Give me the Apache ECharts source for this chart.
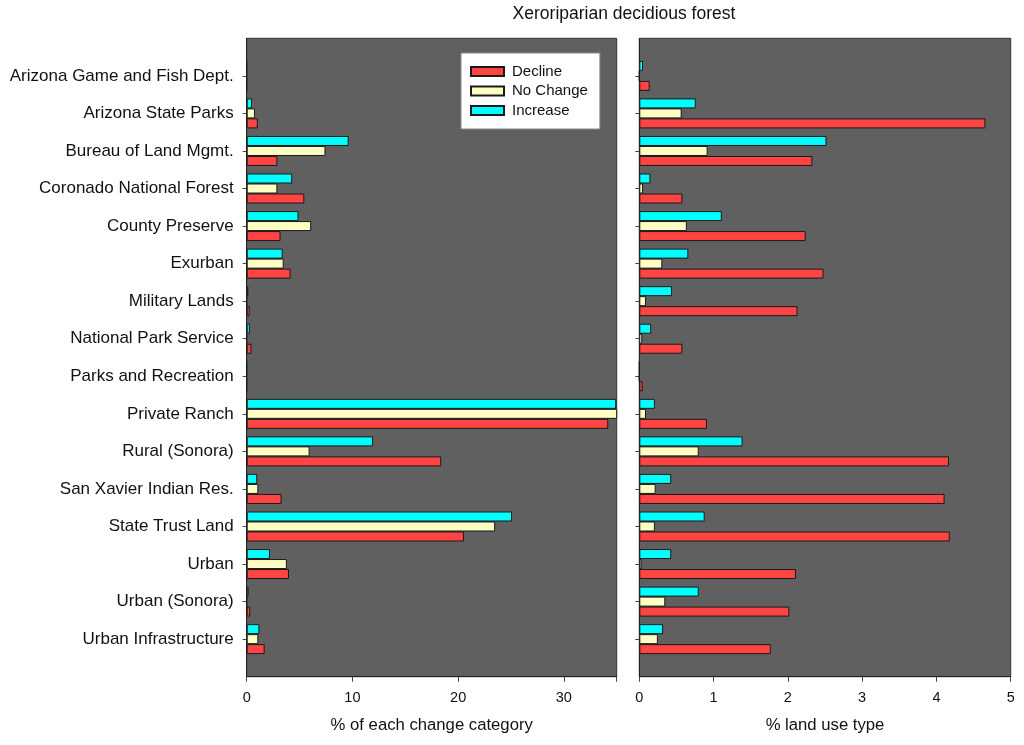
<!DOCTYPE html>
<html>
<head>
<meta charset="utf-8">
<script src="https://cdn.jsdelivr.net/npm/echarts@6/dist/echarts.min.js"></script>
<style>html,body{margin:0;padding:0;background:#fff;}#c{width:1024px;height:745px;}</style>
</head>
<body>
<div id="c"></div>
<script>
var categories = ["Arizona Game and Fish Dept.","Arizona State Parks","Bureau of Land Mgmt.","Coronado National Forest","County Preserve","Exurban","Military Lands","National Park Service","Parks and Recreation","Private Ranch","Rural (Sonora)","San Xavier Indian Res.","State Trust Land","Urban","Urban (Sonora)","Urban Infrastructure"];
var seriesNames = ["Decline","No Change","Increase"];
// % of each change category
var leftDecline  = [0, 1.05, 2.9, 5.45, 3.2, 4.15, 0.28, 0.45, 0, 34.2, 18.4, 3.3, 20.55, 4.0, 0.33, 1.7];
var leftNoChange = [0, 0.78, 7.45, 2.9, 6.1, 3.5, 0, 0, 0, 36, 5.95, 1.1, 23.5, 3.8, 0, 1.1];
var leftIncrease = [0, 0.5, 9.65, 4.3, 4.9, 3.4, 0.15, 0.3, 0, 34.95, 11.95, 1.0, 25.1, 2.2, 0.18, 1.2];
// % land use type
var rightDecline  = [0.14, 4.66, 2.33, 0.58, 2.24, 2.48, 2.13, 0.58, 0.045, 0.91, 4.17, 4.11, 4.18, 2.11, 2.02, 1.77];
var rightNoChange = [0, 0.57, 0.92, 0.05, 0.64, 0.31, 0.09, 0.04, 0, 0.09, 0.80, 0.22, 0.21, 0.03, 0.35, 0.25];
var rightIncrease = [0.05, 0.76, 2.52, 0.15, 1.11, 0.66, 0.44, 0.16, 0, 0.21, 1.39, 0.43, 0.88, 0.43, 0.80, 0.32];
var leftTicks = [0, 10, 20, 30];
var rightTicks = [0, 1, 2, 3, 4, 5];

var colors = {"Decline":"#ff4444","No Change":"#ffffc4","Increase":"#00ffff"};
function pad(a){ return [null].concat(a).concat([null]); }
var yCats = [""].concat(categories).concat([""]);

var font = "Liberation Sans, Arial, sans-serif";
var chart = echarts.init(document.getElementById('c'));

function yAxis(gi, showLabels){
  return {
    type:'category', gridIndex:gi, data:yCats, boundaryGap:false, inverse:true,
    axisLine:{show:true, lineStyle:{color:'#222', width:1}},
    axisTick:{show:true, length:4, inside:false, lineStyle:{color:'#444'},
      interval:function(i){ return i>0 && i<yCats.length-1; }},
    axisLabel:{show:showLabels, fontSize:17, color:'#111', fontFamily:font, margin:13,
      interval:function(i){ return i>0 && i<yCats.length-1; }},
    splitLine:{show:false}
  };
}
function xAxis(gi, max, interval, name, ticks){
  return {
    type:'value', gridIndex:gi, min:0, max:max, interval:interval,
    name:name, nameLocation:'middle', nameGap:40,
    nameTextStyle:{fontSize:16.7, color:'#111', fontFamily:font},
    axisLine:{show:true, lineStyle:{color:'#222'}},
    axisTick:{show:true, length:5, lineStyle:{color:'#444'}},
    axisLabel:{fontSize:14.5, color:'#111', fontFamily:font, margin:14,
      formatter:function(v){ return ticks.indexOf(v)>=0 ? String(v) : ''; }},
    splitLine:{show:false}
  };
}
function bars(name, data, xi){
  return {
    type:'bar', name:name, xAxisIndex:xi, yAxisIndex:xi, data:pad(data),
    barWidth:10, barGap:'0%', clip:true,
    itemStyle:{color:colors[name], borderColor:'#1a1a1a', borderWidth:1},
    emphasis:{disabled:true}, animation:false
  };
}

var option = {
  animation:false,
  textStyle:{fontFamily:font},
  graphic:[{type:'text', x:624, y:14, style:{text:'Xeroriparian decidious forest', fontSize:17.5, fill:'#111', fontFamily:font, textAlign:'center', textVerticalAlign:'middle'}}],
  legend:{
    data:seriesNames, orient:'vertical', left:461, top:53, width:138,
    backgroundColor:'#ffffff', borderColor:'#888', borderWidth:1,
    padding:[11,12,11,9], itemGap:4.5, itemWidth:33, itemHeight:9, icon:'rect',
    textStyle:{fontSize:15, color:'#111', fontFamily:font, padding:[0,0,0,3]},
    selectedMode:false
  },
  grid:[
    {left:246.7, right:407.3, top:38.3, bottom:68.3, show:true, backgroundColor:'#606060', borderColor:'#333', borderWidth:1, containLabel:false},
    {left:639.3, right:13.3, top:38.3, bottom:68.3, show:true, backgroundColor:'#606060', borderColor:'#333', borderWidth:1, containLabel:false}
  ],
  xAxis:[ xAxis(0, 35, 10, '% of each change category', leftTicks), xAxis(1, 5, 1, '% land use type', rightTicks) ],
  yAxis:[ yAxis(0, true), yAxis(1, false) ],
  series:[
    bars('Increase', leftIncrease, 0), bars('No Change', leftNoChange, 0), bars('Decline', leftDecline, 0),
    bars('Increase', rightIncrease, 1), bars('No Change', rightNoChange, 1), bars('Decline', rightDecline, 1)
  ]
};
chart.setOption(option);
</script>
</body>
</html>
